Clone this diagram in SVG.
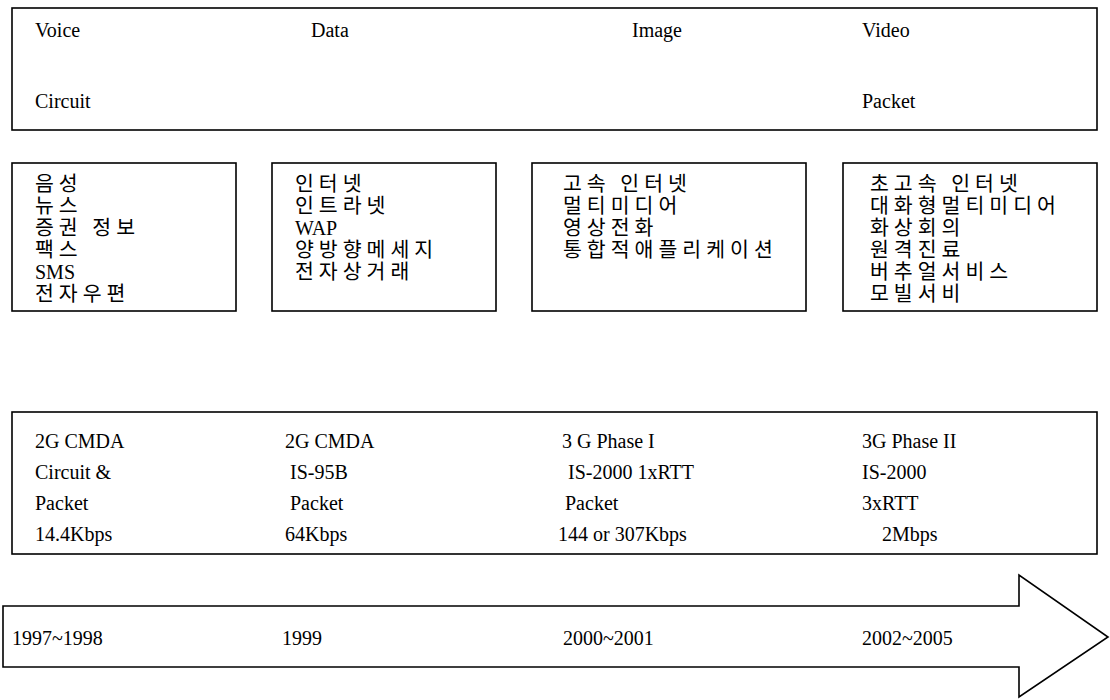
<svg xmlns="http://www.w3.org/2000/svg" width="1110" height="700" viewBox="0 0 1110 700">
<style>
.box{fill:#fff;stroke:#000;stroke-width:1.6}
.t{font-family:"Liberation Serif","Noto Sans CJK KR",serif;font-size:20px;fill:#000}
.k{font-family:"Noto Sans CJK KR",sans-serif;font-size:20.5px;letter-spacing:5px;fill:#000}
</style>
<rect width="1110" height="700" fill="#fff"/>
<g id="media">
<rect class="box" x="12" y="8" width="1085" height="122"/>
<text class="t" x="35" y="37">Voice</text>
<text class="t" x="311" y="37">Data</text>
<text class="t" x="632" y="37">Image</text>
<text class="t" x="862" y="37">Video</text>
<text class="t" x="35" y="108">Circuit</text>
<text class="t" x="862" y="108">Packet</text>
</g>
<g id="svc1">
<rect class="box" x="12" y="163" width="224" height="148"/>
<text class="k" x="35" y="191">음성</text>
<text class="k" x="35" y="213">뉴스</text>
<text class="k" x="35" y="235">증권 정보</text>
<text class="k" x="35" y="257">팩스</text>
<text class="t" x="35" y="279">SMS</text>
<text class="k" x="35" y="301">전자우편</text>
</g>
<g id="svc2">
<rect class="box" x="272" y="163" width="224" height="148"/>
<text class="k" x="295" y="191">인터넷</text>
<text class="k" x="295" y="213">인트라넷</text>
<text class="t" x="295" y="235">WAP</text>
<text class="k" x="295" y="257">양방향메세지</text>
<text class="k" x="295" y="279">전자상거래</text>
</g>
<g id="svc3">
<rect class="box" x="532" y="163" width="274" height="148"/>
<text class="k" x="563" y="191">고속 인터넷</text>
<text class="k" x="563" y="213">멀티미디어</text>
<text class="k" x="563" y="235">영상전화</text>
<text class="k" x="563" y="257">통합적애플리케이션</text>
</g>
<g id="svc4">
<rect class="box" x="843" y="163" width="254" height="148"/>
<text class="k" x="870" y="191">초고속 인터넷</text>
<text class="k" x="870" y="213">대화형멀티미디어</text>
<text class="k" x="870" y="235">화상회의</text>
<text class="k" x="870" y="257">원격진료</text>
<text class="k" x="870" y="279">버추얼서비스</text>
<text class="k" x="870" y="301">모빌서비</text>
</g>
<g id="tech">
<rect class="box" x="12" y="412" width="1085" height="142"/>
<text class="t" x="35" y="448">2G CMDA</text>
<text class="t" x="35" y="479">Circuit &amp;</text>
<text class="t" x="35" y="510">Packet</text>
<text class="t" x="35" y="541">14.4Kbps</text>
<text class="t" x="285" y="448">2G CMDA</text>
<text class="t" x="290" y="479">IS-95B</text>
<text class="t" x="290" y="510">Packet</text>
<text class="t" x="285" y="541">64Kbps</text>
<text class="t" x="562" y="448">3 G Phase I</text>
<text class="t" x="568" y="479">IS-2000 1xRTT</text>
<text class="t" x="565" y="510">Packet</text>
<text class="t" x="558" y="541">144 or 307Kbps</text>
<text class="t" x="862" y="448">3G Phase II</text>
<text class="t" x="862" y="479">IS-2000</text>
<text class="t" x="862" y="510">3xRTT</text>
<text class="t" x="882" y="541">2Mbps</text>
</g>
<g id="timeline">
<path class="box" d="M3 606 H1019 V575 L1108 637 L1019 697 V667 H3 Z"/>
<text class="t" x="12" y="645">1997~1998</text>
<text class="t" x="282" y="645">1999</text>
<text class="t" x="563" y="645">2000~2001</text>
<text class="t" x="862" y="645">2002~2005</text>
</g>
<g id="connectors"></g>
</svg>
